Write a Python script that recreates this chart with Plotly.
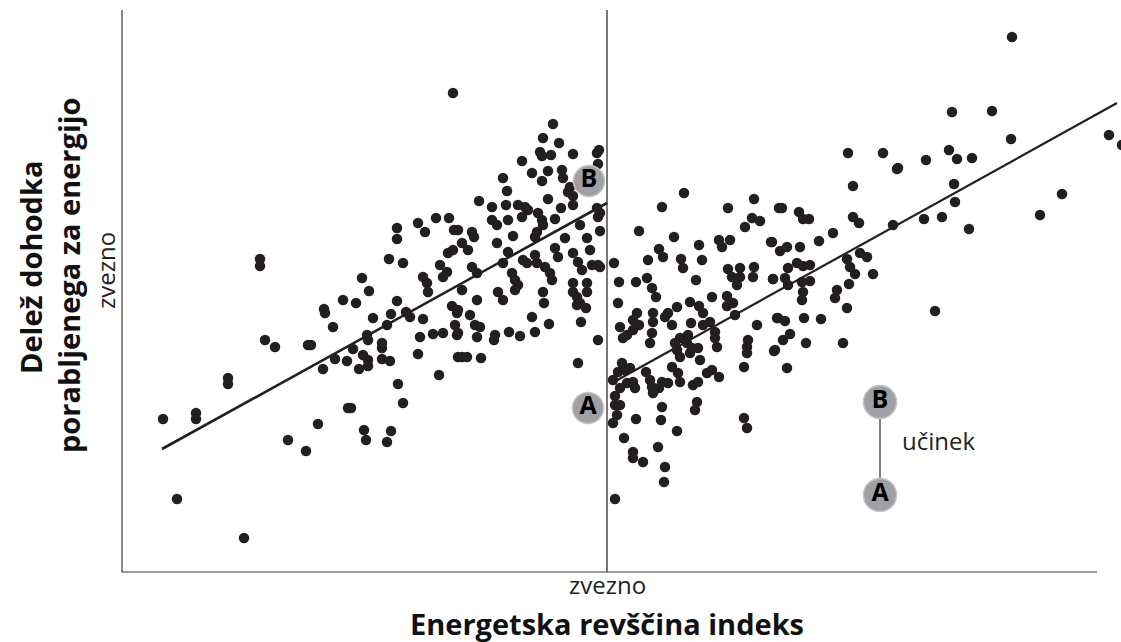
import plotly.graph_objects as go

# ---- data (index units on x, share units on y) ----
cutoff = 485

left_index = [138,138,143,153,186,106,106,41,74,74,166,184,55,122,331,275,275,296,303,314,327,332,326,331,267,281,318,240,247,301,305,221,234,275,202,306,321,325,203,211,251,269,284,288,301,330,335,333,189,245,246,260,260,231,241,213,225,246,246,237,260,268,201,265,298,311,321,296,335,336,317,276,281,226,229,196,242,244,269,265,
              431,421,437,418,420,429,451,475,477,400,410,426,420,440,441,476,381,385,448,451,446,357,370,384,396,403,406,426,439,451,475,476,370,375,386,400,416,420,421,433,458,336,350,352,415,413,478,391,443,465,340,346,375,386,433,436,451,468,413,415,401,405,381,456,460,470,476,350,355,390,393,423,428,430,396,393,376,381,421,422,451,465,340,355,458,336,348,353,358,455,464,410,427,459,336,355,373,372,387,398,413,476,340,345,359,456,451,465,455,478,478]
left_share = [313,306,232,225,227,194,188,153,159,153,132,121,73,34,479,344,333,349,340,354,354,342,319,322,313,309,307,294,281,295,289,272,269,271,263,280,295,300,259,245,254,258,260,255,253,266,259,247,227,237,232,229,224,223,217,213,211,212,206,203,213,211,203,247,235,238,239,218,237,215,197,188,169,164,164,148,142,132,141,130,
              448,434,429,420,416,417,418,419,422,411,399,401,391,402,394,408,394,381,385,376,380,371,365,367,367,365,362,373,364,367,364,355,352,347,352,355,359,352,347,353,347,342,340,335,340,335,341,336,334,334,329,322,329,320,324,315,319,322,317,309,312,309,309,310,302,307,307,305,299,299,292,305,299,292,287,282,280,272,280,269,280,280,282,272,269,262,257,247,245,267,264,255,248,250,239,235,237,232,240,236,240,232,215,215,214,209,289,289,275,359,305]

right_index = [562,540,606,632,657,517,552,577,597,600,608,623,630,638,649,537,541,526,559,561,580,492,606,610,618,618,615,632,631,651,574,497,514,525,530,534,496,555,568,577,581,590,605,605,611,613,515,511,517,531,531,543,546,498,550,569,588,635,656,
               505,501,511,530,528,581,593,593,595,558,553,555,558,566,565,570,568,576,578,626,625,625,652,622,500,496,503,508,524,550,556,558,585,590,597,528,530,531,540,546,537,498,505,511,513,571,576,575,573,493,498,495,491,540,514,539,622,625,555,502,536,511,511,521,543,542,493,491,493,
               726,761,775,731,660,677,681,687,731,737,771,711,697,650,658,665,678,738,745,725,728,733,751,666,675,681,688,651,663,666,680,688,681,680,727,715,713,725,655,663,682,699,668,661,653,684,721,665,
               890,830,870,987,889,1000,776,804,827,835,850,832,833,940,918,802,820,847,813]
right_share = [379,365,364,373,364,341,335,327,332,325,332,345,354,351,330,323,315,312,313,304,312,309,303,295,304,295,287,305,295,293,292,290,290,294,284,275,269,265,270,266,259,275,276,266,269,257,259,252,247,259,250,255,259,245,247,249,250,247,254,
               237,234,242,239,229,247,240,234,225,234,229,222,215,237,229,224,219,224,212,232,225,219,221,205,209,200,202,204,200,205,199,190,199,202,195,192,185,179,190,189,184,184,189,190,184,187,190,170,162,167,167,157,149,165,153,152,154,144,141,134,125,120,114,110,105,90,73,192,176,
               419,419,403,386,364,360,353,353,355,349,347,339,331,330,321,325,325,319,315,313,305,298,298,304,309,306,307,293,294,287,290,291,280,272,288,282,274,264,254,251,254,253,238,232,222,229,229,204,
               535,460,461,437,433,427,404,412,422,413,414,388,370,378,357,353,355,343,261]

# fitted lines (read endpoints)
left_fit_x = [40, 485]
left_fit_y = [123, 369]
right_fit_x = [490, 995]
right_fit_y = [189, 469]

# annotated outcomes at cutoff and legend
ab_x = [467, 466]
ab_y = [391, 164]
ab_labels = ["B", "A"]
legend_x = [758, 758]
legend_y = [170, 77]

ink = "#231f20"
grey = "#a0a0a4"
font = "Open Sans"

fig = go.Figure()

# axis frame and cutoff
fig.add_trace(go.Scatter(x=[0, 0, 975], y=[562, 0, 0], mode="lines",
                         line=dict(color="#3a3a3a", width=1.2), hoverinfo="skip"))
fig.add_trace(go.Scatter(x=[cutoff, cutoff], y=[0, 562], mode="lines",
                         line=dict(color="#4a4a4a", width=1.5), hoverinfo="skip"))

fig.add_trace(go.Scatter(x=left_index, y=left_share, mode="markers",
                         marker=dict(size=10.5, color=ink)))
fig.add_trace(go.Scatter(x=right_index, y=right_share, mode="markers",
                         marker=dict(size=10.5, color=ink)))

fig.add_trace(go.Scatter(x=left_fit_x, y=left_fit_y, mode="lines",
                         line=dict(color=ink, width=2.6)))
fig.add_trace(go.Scatter(x=right_fit_x, y=right_fit_y, mode="lines",
                         line=dict(color=ink, width=2.2)))

# legend connector
fig.add_trace(go.Scatter(x=legend_x, y=legend_y, mode="lines",
                         line=dict(color="#555555", width=1.5)))

fig.add_trace(go.Scatter(x=ab_x, y=ab_y, mode="markers+text", text=ab_labels,
                         textposition="middle center",
                         textfont=dict(family=font, size=25, color="black", weight="bold"),
                         marker=dict(size=31, color=grey, line=dict(color="#c4c4c6", width=1.5))))
fig.add_trace(go.Scatter(x=legend_x, y=legend_y, mode="markers+text", text=ab_labels,
                         textposition="middle center",
                         textfont=dict(family=font, size=25, color="black", weight="bold"),
                         marker=dict(size=33, color=grey, line=dict(color="#c4c4c6", width=1.5))))

fig.add_annotation(x=778, y=132, text="učinek", showarrow=False, xanchor="left",
                   font=dict(family=font, size=24, color="#222222"))
fig.add_annotation(x=cutoff, y=-12, text="zvezno", showarrow=False,
                   font=dict(family=font, size=24, color="#222222"))
fig.add_annotation(x=cutoff, y=-51, text="<b>Energetska revščina indeks</b>", showarrow=False,
                   font=dict(family=font, size=29, color="#111111"))
fig.add_annotation(x=-92, y=304, text="<b>Delež dohodka</b>", showarrow=False, textangle=-90,
                   font=dict(family=font, size=29, color="#111111"))
fig.add_annotation(x=-54, y=297, text="<b>porabljenega za energijo</b>", showarrow=False, textangle=-90,
                   font=dict(family=font, size=29, color="#111111"))
fig.add_annotation(x=-17, y=301, text="zvezno", showarrow=False, textangle=-90,
                   font=dict(family=font, size=24, color="#222222"))

fig.update_layout(
    width=1121, height=642,
    margin=dict(l=0, r=0, t=0, b=0),
    paper_bgcolor="white", plot_bgcolor="white",
    showlegend=False,
    xaxis=dict(range=[-122, 999], visible=False, fixedrange=True),
    yaxis=dict(range=[-70, 572], visible=False, fixedrange=True),
)

fig.write_html("out.html", config={"displayModeBar": False},
               post_script="document.body.style.margin='0px';")
